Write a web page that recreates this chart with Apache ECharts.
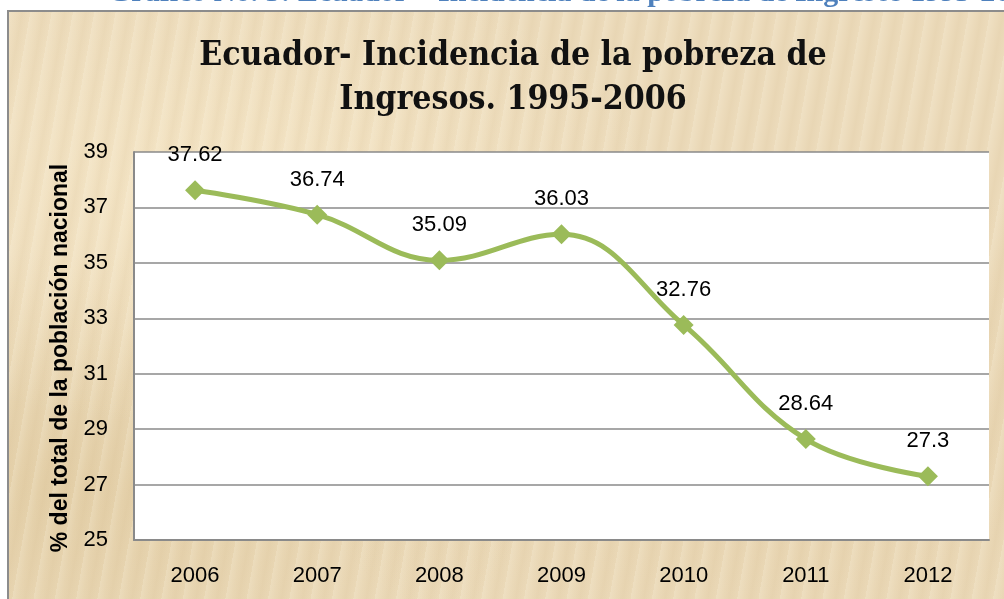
<!DOCTYPE html>
<html>
<head>
<meta charset="utf-8">
<script src="https://cdn.jsdelivr.net/npm/echarts@6/dist/echarts.min.js"></script>
<style>
html,body{margin:0;padding:0;background:#fff;width:1004px;height:599px;overflow:hidden;}
#frame{position:absolute;left:7px;top:10px;width:1010px;height:600px;border:2px solid #8c8c8c;box-sizing:border-box;
background-color:#ecdbbb;
background-image:
 repeating-linear-gradient(100deg, rgba(255,250,235,0.18) 0px, rgba(255,250,235,0) 7px, rgba(200,170,120,0.10) 13px, rgba(255,250,235,0) 21px),
 radial-gradient(ellipse at 20% 30%, rgba(250,236,205,0.6), rgba(250,236,205,0) 40%),
 radial-gradient(ellipse at 75% 70%, rgba(220,195,150,0.35), rgba(220,195,150,0) 45%),
 radial-gradient(ellipse at 5% 80%, rgba(215,190,140,0.4), rgba(215,190,140,0) 35%);}
#chart{position:absolute;left:0;top:0;width:1004px;height:599px;}
</style>
</head>
<body>
<div id="frame"></div>
<div id="chart"></div>
<script>
const caption = 'Gráfico No. 5: Ecuador – Incidencia de la pobreza de Ingresos 1995-2006';
const titleText = 'Ecuador- Incidencia de la pobreza de\nIngresos. 1995-2006';
const yAxisName = '% del total de la población nacional';
const years = ['2006','2007','2008','2009','2010','2011','2012'];
const poverty = [37.62, 36.74, 35.09, 36.03, 32.76, 28.64, 27.3];
const yMin = 25, yMax = 39, yStep = 2;

const chart = echarts.init(document.getElementById('chart'), null, {renderer:'canvas'});
chart.setOption({
  backgroundColor: 'transparent',
  animation: false,
  graphic: [{
    type:'text', left:108, top:-22,
    style:{text: caption, font:'bold 30px "Liberation Serif"', fill:'#4f81bd'}
  }, {
    type:'text', x:513, y:34,
    style:{text: titleText, align:'center', verticalAlign:'top', textAlign:'center', textVerticalAlign:'top',
      fontFamily:'"DejaVu Serif Condensed", "DejaVu Serif"', fontWeight:'bold', fontSize:33.5, lineHeight:44, fill:'#111'}
  }],
  grid: {left:134, right:15, top:152, bottom:59, show:true, backgroundColor:'#ffffff', borderWidth:0},
  xAxis: {
    type:'category', data: years, boundaryGap:true,
    axisLine:{show:true, lineStyle:{color:'#8a8a8a', width:2}},
    axisTick:{show:false},
    axisLabel:{fontFamily:'Liberation Sans', fontSize:22, color:'#000', margin:25}
  },
  yAxis: {
    type:'value', min:yMin, max:yMax, interval:yStep,
    name: yAxisName, nameLocation:'middle', nameGap:62, nameRotate:90,
    nameTextStyle:{fontFamily:'Liberation Sans', fontWeight:'bold', fontSize:23, color:'#000', padding:[0,24,0,0]},
    axisLine:{show:true, lineStyle:{color:'#8a8a8a', width:2}},
    axisTick:{show:false},
    splitLine:{lineStyle:{color:'#8a8a8a', width:1.5}},
    axisLabel:{fontFamily:'Liberation Sans', fontSize:22, color:'#000', margin:26}
  },
  series: [{
    type:'line', data: poverty, smooth:0.4,
    symbol:'diamond', symbolSize:20,
    lineStyle:{color:'#9bbb59', width:5},
    itemStyle:{color:'#9bbb59'},
    label:{show:true, position:'top', distance:14, fontFamily:'Liberation Sans', fontSize:22, color:'#000'}
  }]
});
</script>
</body>
</html>
